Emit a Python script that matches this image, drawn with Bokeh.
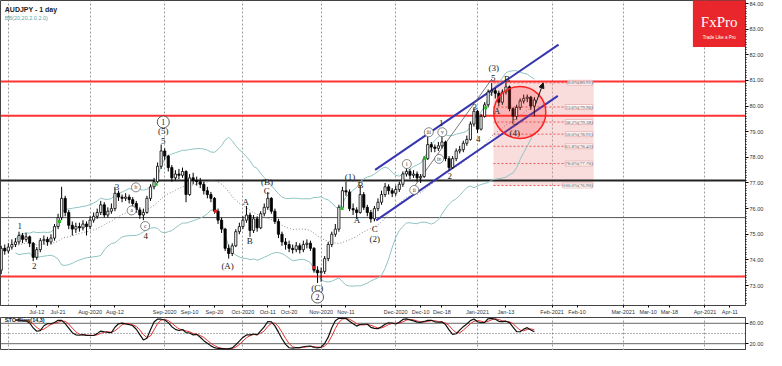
import numpy as np
import pandas as pd
from bokeh.plotting import figure
from bokeh.models import (Range1d, FixedTicker, Label, LabelSet, ColumnDataSource,
                          Arrow, NormalHead, PrintfTickFormatter, BoxAnnotation)
from bokeh.layouts import column
from bokeh.embed import file_html
from bokeh.resources import INLINE

# ---------------- data ----------------
START = "2020-06-29"   # bar index 0 (daily bars, weekdays only)
first_open = 73.60
closes = [74.45, 74.35, 74.50, 74.60, 74.70, 74.95, 74.80, 74.90, 74.65, 74.10,
          74.40, 74.75, 74.80, 74.70, 74.85, 75.30, 75.65, 76.40, 75.85, 75.35,
          75.20, 75.30, 75.25, 75.40, 75.30, 75.55, 75.70, 75.85, 76.15, 75.75,
          75.90, 76.00, 76.60, 76.45, 76.40, 76.45, 76.35, 76.20, 75.95, 75.75,
          75.85, 76.40, 76.85, 77.05, 77.65, 78.25, 78.05, 77.60, 77.20, 77.35,
          77.30, 77.45, 76.55, 77.20, 77.10, 77.05, 76.95, 76.70, 76.55, 76.40,
          75.90, 75.55, 75.20, 74.45, 74.25, 74.55, 75.10, 75.30, 75.55, 75.75,
          75.15, 75.60, 75.25, 75.80, 76.05, 76.40, 75.90, 75.50, 75.00, 74.70,
          74.60, 74.45, 74.40, 74.55, 74.40, 74.60, 74.65, 74.45, 73.60, 73.50,
          73.55, 74.05, 74.60, 75.00, 75.20, 76.05, 76.70, 76.65, 76.00, 75.95,
          75.85, 76.55, 76.05, 75.85, 75.60, 76.00, 76.25, 76.55, 76.85, 76.70,
          76.60, 76.75, 76.95, 77.35, 77.45, 77.30, 77.35, 77.20, 77.25, 77.95,
          78.50, 78.40, 78.35, 78.45, 78.60, 77.95, 77.60, 77.95, 78.25, 78.30,
          78.55, 78.70, 79.30, 79.80, 79.10, 79.60, 80.05, 80.55, 80.60, 80.50,
          80.15, 80.55, 80.75, 79.90, 79.60, 79.95, 80.20, 80.30, 80.35, 80.00,
          80.24]
highs = [74.55, 74.60, 74.65, 74.80, 74.85, 75.10, 75.05, 75.05, 74.95, 74.70,
         74.50, 74.85, 74.95, 74.90, 75.00, 75.40, 75.80, 76.85, 76.50, 75.95,
         75.50, 75.45, 75.45, 75.55, 75.50, 75.70, 75.85, 76.00, 76.30, 76.25,
         76.05, 76.20, 76.85, 76.70, 76.55, 76.60, 76.55, 76.45, 76.30, 76.05,
         76.00, 76.50, 76.95, 77.20, 77.80, 78.50, 78.35, 78.10, 77.70, 77.50,
         77.55, 77.60, 77.50, 77.35, 77.40, 77.25, 77.20, 77.05, 76.85, 76.65,
         76.45, 76.00, 75.65, 75.25, 74.60, 74.65, 75.20, 75.45, 75.70, 76.10,
         75.85, 75.75, 75.70, 75.90, 76.20, 76.65, 76.45, 76.00, 75.60, 75.10,
         74.85, 74.75, 74.60, 74.70, 74.65, 74.75, 74.80, 74.75, 74.50, 73.75,
         73.70, 74.15, 74.70, 75.10, 75.40, 76.15, 76.85, 77.05, 76.75, 76.20,
         76.05, 76.90, 76.65, 76.15, 75.95, 76.10, 76.40, 76.70, 77.00, 76.95,
         76.80, 76.90, 77.05, 77.45, 77.65, 77.55, 77.50, 77.45, 77.35, 78.05,
         78.80, 78.60, 78.50, 78.60, 78.95, 78.65, 78.05, 78.05, 78.35, 78.45,
         78.65, 78.85, 79.40, 79.95, 79.85, 79.70, 80.15, 80.65, 80.90, 80.70,
         80.60, 80.65, 80.92, 80.80, 79.95, 80.05, 80.30, 80.45, 80.45, 80.40,
         80.35]
lows = [73.45, 74.20, 74.25, 74.40, 74.50, 74.60, 74.65, 74.70, 74.50, 73.95,
        74.00, 74.30, 74.60, 74.55, 74.60, 74.75, 75.20, 75.55, 75.70, 75.20,
        74.95, 75.05, 75.10, 75.15, 74.95, 75.20, 75.45, 75.60, 75.75, 75.65,
        75.65, 75.80, 75.90, 76.30, 76.25, 76.30, 76.20, 76.05, 75.85, 75.60,
        75.55, 75.80, 76.30, 76.75, 77.00, 77.55, 77.90, 77.45, 77.05, 77.10,
        77.15, 77.20, 76.25, 76.50, 76.95, 76.90, 76.80, 76.55, 76.40, 76.25,
        75.80, 75.40, 75.05, 74.35, 74.05, 74.15, 74.50, 75.00, 75.20, 75.45,
        74.90, 75.05, 75.10, 75.20, 75.70, 75.95, 75.80, 75.40, 74.85, 74.55,
        74.40, 74.30, 74.25, 74.30, 74.25, 74.30, 74.45, 74.35, 73.50, 73.10,
        73.15, 73.45, 73.95, 74.50, 74.90, 75.10, 75.95, 76.50, 75.90, 75.75,
        75.60, 75.80, 75.95, 75.70, 75.45, 75.50, 75.90, 76.15, 76.45, 76.55,
        76.45, 76.50, 76.65, 76.85, 77.25, 77.15, 77.20, 77.05, 77.00, 77.20,
        77.90, 78.20, 78.20, 78.25, 78.35, 77.85, 77.50, 77.55, 77.85, 78.15,
        78.20, 78.45, 78.65, 79.20, 78.95, 79.05, 79.55, 79.95, 80.40, 80.30,
        80.00, 80.05, 80.45, 79.80, 79.45, 79.50, 79.85, 80.10, 80.15, 79.85,
        79.60]

tick_dates = ["2020-07-12", "2020-07-21", "2020-08-01", "2020-08-12", "2020-09-01",
              "2020-09-10", "2020-09-20", "2020-10-01", "2020-10-11", "2020-10-20",
              "2020-11-01", "2020-11-11", "2020-12-01", "2020-12-10", "2020-12-18",
              "2021-01-01", "2021-01-13", "2021-02-01", "2021-02-10", "2021-03-01",
              "2021-03-10", "2021-03-18", "2021-04-01", "2021-04-11"]
tick_labels = ["Jul-12", "Jul-21", "Aug-2020", "Aug-12", "Sep-2020", "Sep-10", "Sep-20",
               "Oct-2020", "Oct-11", "Oct-20", "Nov-2020", "Nov-11", "Dec-2020", "Dec-10",
               "Dec-18", "Jan-2021", "Jan-13", "Feb-2021", "Feb-10", "Mar-2021", "Mar-10",
               "Mar-18", "Apr-2021", "Apr-11"]
month_starts = ["2020-07-01", "2020-08-01", "2020-09-01", "2020-10-01", "2020-11-01",
                "2020-12-01", "2021-01-01", "2021-02-01", "2021-03-01", "2021-04-01"]

red_levels = [80.96, 79.62, 73.35]
black_level = 77.10
gray_level = 75.65
last_price = 80.24

fib_high = 80.91
fib_low = 76.90
fib_pcts = [0.0, 23.6, 38.2, 50.0, 61.8, 78.6, 100.0]
fib_x0, fib_x1 = 138.5, 166.7

upper_ch_x = [105.2, 156.8]; upper_ch_y = [77.51, 82.40]
lower_ch_x = [105.5, 156.6]; lower_ch_y = [75.54, 80.40]
wave_x = [115.9, 138.1]; wave_y = [76.80, 81.07]

wave_text = ["1", "2", "3", "4", "5", "(5)", "(A)", "A", "B", "C", "(B)", "(C)",
             "(1)", "A", "B", "C", "(2)", "1", "2", "3", "4", "5", "(3)", "A", "B", "C", "(4)"]
wave_x_pos = [5.2, 9.3, 32.6, 40.7, 45.6, 45.6, 63.7, 68.8, 69.9, 74.7, 74.8, 88.9,
              98.1, 100.1, 101.1, 105.1, 105.1, 123.8, 126.2, 133.2, 134.2, 138.4, 138.6,
              139.5, 142.3, 144.5, 144.5]
wave_y_pos = [75.32, 73.78, 76.86, 74.95, 78.64, 79.01, 73.75, 76.24, 74.74, 76.70, 77.04, 72.92,
              77.25, 75.56, 76.92, 75.19, 74.80, 79.34, 77.29, 79.96, 78.70, 81.11, 81.48,
              79.81, 81.07, 79.38, 78.95]

circ_text = ["a", "b", "c", "i", "ii", "iii", "iv", "v"]
circ_x = [36.7, 37.9, 40.5, 114.1, 116.2, 120.3, 123.2, 124.1]
circ_y = [75.93, 76.83, 75.32, 77.74, 76.73, 78.98, 77.94, 78.98]
big_circ_text = ["1", "2"]
big_circ_x = [45.6, 89.0]
big_circ_y = [79.38, 72.55]

green_x = [16.4, 43.6, 95.9, 119.2, 136.3]; green_y = [75.50, 76.95, 76.00, 77.97, 79.94]
redm_x = [60.3, 88.0]; redm_y = [75.90, 73.70]

circle_x, circle_y = 145.9, 79.75
arrow_from = (150.3, 80.06); arrow_to = (152.5, 80.90)
sto_last = 49.71

# ---------------- derived ----------------
def bidx(d):
    return int(np.busday_count(START, d))

n = len(closes)
idx = np.arange(n)
opens = [first_open] + closes[:-1]
c = pd.Series(closes); h = pd.Series(highs); l = pd.Series(lows)
mid = c.rolling(20, min_periods=5).mean()
sd = c.rolling(20, min_periods=5).std(ddof=0)
bb_up = mid + 2 * sd
bb_lo = mid - 2 * sd
ll = l.rolling(14, min_periods=5).min()
hh = h.rolling(14, min_periods=5).max()
k = (c - ll).rolling(3, min_periods=1).sum() / (hh - ll).rolling(3, min_periods=1).sum() * 100
d = k.rolling(3, min_periods=1).mean()

up = [cl >= op for op, cl in zip(opens, closes)]
src = ColumnDataSource(dict(
    x=idx, high=highs, low=lows,
    top=[max(o, cc) for o, cc in zip(opens, closes)],
    bottom=[min(o, cc) for o, cc in zip(opens, closes)],
    fill=["white" if u else "black" for u in up]))

FONT = "Liberation Sans"
XR = Range1d(-0.2, 209.4)

p = figure(width=766, height=317, x_range=XR, y_range=Range1d(72.22, 84.12),
           y_axis_location="right", toolbar_location=None, output_backend="svg",
           min_border_left=0, min_border_right=17, min_border_top=0, min_border_bottom=0)
p.outline_line_color = "#444444"
p.background_fill_color = "white"
p.ygrid.grid_line_color = None
p.xgrid.ticker = FixedTicker(ticks=[bidx(m) for m in month_starts])
p.xgrid.grid_line_color = "#9a9a9a"
p.xgrid.grid_line_dash = "2 2"

tick_idx = [bidx(t) for t in tick_dates]
p.xaxis.ticker = FixedTicker(ticks=tick_idx)
p.xaxis.major_label_overrides = {ti: lab for ti, lab in zip(tick_idx, tick_labels)}
p.xaxis.major_label_text_font_size = "5.5px"
p.xaxis.major_label_text_font = FONT
p.xaxis.major_label_text_color = "#333333"
p.xaxis.major_tick_out = 2
p.xaxis.major_tick_in = 0
p.xaxis.minor_tick_line_color = None
p.xaxis.major_label_standoff = 1
p.xaxis.axis_line_color = "#444444"

p.yaxis.ticker = FixedTicker(ticks=list(range(73, 85)),
                             minor_ticks=[round(v, 2) for v in np.arange(72.3, 84.1, 0.1)])
p.yaxis.formatter = PrintfTickFormatter(format="%.2f")
p.yaxis.major_label_text_font_size = "5.5px"
p.yaxis.major_label_text_font = FONT
p.yaxis.major_label_text_color = "#333333"
p.yaxis.major_tick_out = 3
p.yaxis.major_tick_in = 0
p.yaxis.minor_tick_out = 1
p.yaxis.minor_tick_in = 0
p.yaxis.major_label_standoff = 1
p.yaxis.axis_line_color = "#444444"

# fib box
fib_vals = [fib_high - pc / 100.0 * (fib_high - fib_low) for pc in fib_pcts]
p.quad(left=[fib_x0], right=[fib_x1], bottom=[fib_low], top=[fib_high],
       fill_color="#ef9a9a", fill_alpha=0.35, line_color=None)
p.segment(x0=[fib_x0] * len(fib_vals), x1=[fib_x1] * len(fib_vals), y0=fib_vals, y1=fib_vals,
          line_color="#e05a5a", line_dash="2 2", line_width=1)

# horizontal levels
for lv in red_levels:
    p.line(x=[XR.start, XR.end], y=[lv, lv], line_color="#ff3333", line_width=2)
p.line(x=[XR.start, XR.end], y=[black_level] * 2, line_color="#222222", line_width=2)
p.line(x=[XR.start, XR.end], y=[gray_level] * 2, line_color="#555555", line_width=1)

# bollinger
p.line(idx, bb_up, line_color="#8fc3c3", line_width=1)
p.line(idx, bb_lo, line_color="#8fc3c3", line_width=1)
p.line(idx, mid, line_color="#8a8a8a", line_width=1, line_dash="1 2")

# channel and wave lines
p.line(upper_ch_x, upper_ch_y, line_color="#3535b0", line_width=2)
p.line(lower_ch_x, lower_ch_y, line_color="#3535b0", line_width=2)
p.line(wave_x, wave_y, line_color="#555555", line_width=0.8)

# candles
p.segment(x0="x", x1="x", y0="high", y1="low", source=src, line_color="black", line_width=1)
p.vbar(x="x", width=0.62, top="top", bottom="bottom", fill_color="fill",
       line_color="black", line_width=0.8, source=src)
p.scatter(green_x, green_y, marker="square", size=3, fill_color="#22bb22", line_color=None)
p.scatter(redm_x, redm_y, marker="square", size=3, fill_color="#dd2222", line_color=None)

# red circle
p.scatter([circle_x], [circle_y], marker="circle", size=52, fill_color="#ff3030",
          fill_alpha=0.22, line_color="#ff2020", line_width=1.5)

# arrow
p.add_layout(Arrow(end=NormalHead(size=5, fill_color="#111111", line_color="#111111"),
                   x_start=arrow_from[0], y_start=arrow_from[1],
                   x_end=arrow_to[0], y_end=arrow_to[1], line_color="#111111", line_width=1))

# wave labels
p.add_layout(LabelSet(x="x", y="y", text="t",
                      source=ColumnDataSource(dict(x=wave_x_pos, y=wave_y_pos, t=wave_text)),
                      text_align="center", text_baseline="middle", text_font_size="9px",
                      text_font=FONT, text_color="#222222"))
p.scatter(circ_x, circ_y, marker="circle", size=9, fill_color="white", line_color="#666666",
          line_width=0.8)
p.add_layout(LabelSet(x="x", y="y", text="t",
                      source=ColumnDataSource(dict(x=circ_x, y=circ_y, t=circ_text)),
                      text_align="center", text_baseline="middle", text_font_size="5.5px",
                      text_font=FONT, text_color="#333333"))
p.scatter(big_circ_x, big_circ_y, marker="circle", size=12, fill_color="white",
          line_color="#333333", line_width=0.8)
p.add_layout(LabelSet(x="x", y="y", text="t",
                      source=ColumnDataSource(dict(x=big_circ_x, y=big_circ_y, t=big_circ_text)),
                      text_align="center", text_baseline="middle", text_font_size="8px",
                      text_font=FONT, text_color="#222222"))

# fib labels
fib_txt = ["%.1f%%(%.2f)" % (pc, v) for pc, v in zip(fib_pcts, fib_vals)]
p.add_layout(LabelSet(x="x", y="y", text="t",
                      source=ColumnDataSource(dict(x=[fib_x1 - 0.3] * len(fib_vals), y=fib_vals, t=fib_txt)),
                      text_align="right", text_baseline="middle", text_font_size="5px",
                      text_font=FONT, text_color="#555555",
                      background_fill_color="white", background_fill_alpha=0.8,
                      border_line_color="#e0a0a0", border_line_width=0.6))

# logo
p.add_layout(BoxAnnotation(left=194.6, right=XR.end, bottom=82.31, top=XR.end, fill_color="#e8262b",
                           fill_alpha=1.0, line_color=None))
p.add_layout(Label(x=202.0, y=83.30, text="FxPro", text_align="center", text_baseline="middle",
                   text_font="Liberation Serif", text_font_size="15px", text_color="white"))
p.add_layout(Label(x=202.0, y=82.68, text="Trade Like a Pro", text_align="center",
                   text_baseline="middle", text_font=FONT, text_font_size="4.5px", text_color="white"))

# titles
p.add_layout(Label(x=1, y=83.78, text="AUDJPY - 1 day", text_font=FONT, text_font_size="7px",
                   text_font_style="bold", text_color="#222222", text_baseline="middle"))
p.add_layout(Label(x=1, y=83.42, text="BB(20,20,2.0,2.0)", text_font=FONT, text_font_size="5.5px",
                   text_color="#5aa6a6", text_baseline="middle"))

# right side boxed price labels
for val in [last_price, gray_level]:
    p.add_layout(Label(x=XR.end, y=val, x_offset=1, text="%.2f" % val, text_font=FONT,
                       text_font_size="5.5px", text_color="#333333", text_baseline="middle",
                       background_fill_color="white", border_line_color="#555555",
                       border_line_width=0.6))

# ---------------- stochastic panel ----------------
s = figure(width=766, height=33, x_range=XR, y_range=Range1d(0, 97), y_axis_location="right",
           x_axis_location=None, toolbar_location=None, output_backend="svg",
           min_border_left=0, min_border_right=17, min_border_top=0, min_border_bottom=0)
s.outline_line_color = "#444444"
s.ygrid.grid_line_color = None
s.xgrid.ticker = FixedTicker(ticks=[bidx(m) for m in month_starts])
s.xgrid.grid_line_color = "#9a9a9a"
s.xgrid.grid_line_dash = "2 2"
s.yaxis.ticker = FixedTicker(ticks=[20, 80])
s.yaxis.formatter = PrintfTickFormatter(format="%.2f")
s.yaxis.major_label_text_font_size = "5.5px"
s.yaxis.major_label_text_font = FONT
s.yaxis.major_label_text_color = "#333333"
s.yaxis.major_tick_out = 3
s.yaxis.major_tick_in = 0
s.yaxis.minor_tick_line_color = None
s.yaxis.major_label_standoff = 1
s.yaxis.axis_line_color = "#444444"
s.line([XR.start, XR.end], [80, 80], line_color="#666666", line_width=1)
s.line([XR.start, XR.end], [20, 20], line_color="#666666", line_width=1)
s.line([XR.start, XR.end], [50, 50], line_color="#666666", line_width=1, line_dash="1 2")
s.line(idx, d, line_color="#e03030", line_width=1)
s.line(idx, k, line_color="#111111", line_width=1.2)
s.add_layout(Label(x=1, y=90, text="STO Slow(14,3)", text_font=FONT, text_font_size="5.5px",
                   text_font_style="bold", text_color="#222222", text_baseline="middle"))
s.add_layout(Label(x=XR.end, y=sto_last, x_offset=1, text="%.2f" % sto_last, text_font=FONT,
                   text_font_size="5.5px", text_color="#333333", text_baseline="middle",
                   background_fill_color="white", border_line_color="#555555",
                   border_line_width=0.6))

layout = column(p, s, spacing=0)
open("out.html", "w").write(file_html(layout, INLINE))
